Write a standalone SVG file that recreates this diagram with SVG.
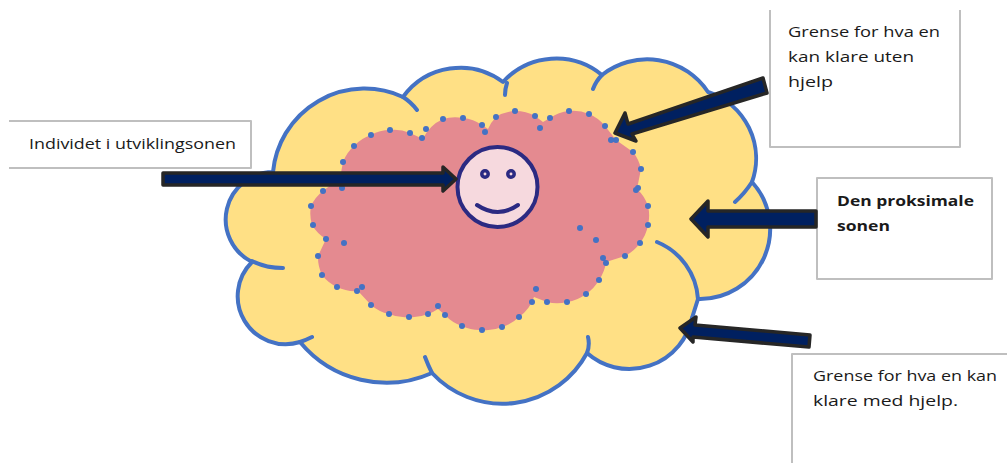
<svg xmlns="http://www.w3.org/2000/svg" width="1007" height="463" viewBox="0 0 1007 463">
<style>
.box{fill:#fff;stroke:#bfbfbf;stroke-width:2;stroke-linejoin:round}
.line{fill:none;stroke:#bfbfbf;stroke-width:2;stroke-linejoin:round}
.t{font-family:"Open Sans","Noto Sans","Liberation Sans",sans-serif;font-size:14.5px;fill:#1a1a1a}
.b{font-weight:700}
.out{fill:none;stroke:#4472c4;stroke-width:4;stroke-linecap:round;stroke-linejoin:round}
.arrow{fill:#002060;stroke:#262626;stroke-width:3.5;stroke-linejoin:round}
.face{fill:none;stroke:#2b2a82;stroke-linecap:round}
</style>
<rect width="1007" height="463" fill="#fff"/>
<g id="outer-zone">
<path id="outer-cloud" d="M273 172A92 92 0 0 1 403 97A71 71 0 0 1 503 82A72 72 0 0 1 602 75A73 73 0 0 1 708 92A70 70 0 0 1 752 182A70 70 0 0 1 698 299L692 318A64 64 0 0 1 587 353A96 96 0 0 1 432 373A112 112 0 0 1 300 342A48 48 0 0 1 252 262A47.500 47.500 0 0 1 273 172Z" fill="#ffe085"/>
<path class="out" d="M273 172A92 92 0 0 1 403 97A71 71 0 0 1 503 82A72 72 0 0 1 602 75A73 73 0 0 1 708 92A70 70 0 0 1 752 182A70 70 0 0 1 698 299M692 318A64 64 0 0 1 587 353A96 96 0 0 1 432 373A112 112 0 0 1 300 342A48 48 0 0 1 252 262A47.500 47.500 0 0 1 273 172"/>
<path class="out" d="M403 97Q411 102 417 110M507 83Q505 89 505 95M602 75Q596 81 593 89M752 182Q745 193 735 202M657 242A66 66 0 0 1 698 299L692 318M587 353Q590 345 588 337M432 373Q428 365 425 357M300 342Q306 340 312 337M252 261Q266 268 283 268"/>
</g>
<g id="inner-zone">
<path id="inner-cloud" fill="#e48a90" d="M343 162A40 40 0 0 1 354 146A40 40 0 0 1 371 135A40 40 0 0 1 390 130A40 40 0 0 1 410 133L423 139A40 40 0 0 1 443 119A40 40 0 0 1 463 118A40 40 0 0 1 482 125L488 129A40 40 0 0 1 496 117A40 40 0 0 1 515 111A40 40 0 0 1 535 116L543 122L550 118A40 40 0 0 1 569 111A40 40 0 0 1 589 114A40 40 0 0 1 605 126L616 140L633 152A40 40 0 0 1 641 169L637 189A40 40 0 0 1 648 206A40 40 0 0 1 648 225A40 40 0 0 1 640 243A40 40 0 0 1 625 256L606 262A40 40 0 0 1 599 280A40 40 0 0 1 586 294A40 40 0 0 1 567 302A40 40 0 0 1 547 302L534 297A40 40 0 0 1 519 317A40 40 0 0 1 502 327A40 40 0 0 1 482 330A40 40 0 0 1 462 326A40 40 0 0 1 445 315L438 309A40 40 0 0 1 428 314A40 40 0 0 1 409 317A40 40 0 0 1 389 314A40 40 0 0 1 371 305L358 291A40 40 0 0 1 337 287A40 40 0 0 1 322 275A40 40 0 0 1 318 256L326 239A40 40 0 0 1 312 225A40 40 0 0 1 311 206A40 40 0 0 1 323 191L340 178Z"/>
<path id="inner-dots" fill="none" stroke="#4472c4" stroke-width="6" stroke-linecap="round" d="M343 162h.01M354 146h.01M371 135h.01M390 130h.01M410 133h.01M422 138h.01M426 129h.01M443 119h.01M463 118h.01M482 125h.01M485 132h.01M496 117h.01M515 111h.01M535 116h.01M540 128h.01M550 118h.01M569 111h.01M589 114h.01M605 126h.01M611 140h.01M616 140h.01M633 152h.01M641 169h.01M638 188h.01M636 190h.01M648 206h.01M648 225h.01M580 228h.01M596 240h.01M342 188h.01M323 191h.01M311 206h.01M313 225h.01M326 239h.01M344 243h.01M318 256h.01M322 275h.01M337 287h.01M357 291h.01M362 287h.01M371 305h.01M389 314h.01M409 317h.01M428 314h.01M438 306h.01M445 315h.01M462 326h.01M482 330h.01M502 327h.01M519 317h.01M532 302h.01M536 289h.01M547 302h.01M567 302h.01M586 294h.01M599 280h.01M606 263h.01M603 258h.01M625 256h.01M640 243h.01"/>
</g>
<g id="smiley">
<circle cx="497.500" cy="187" r="40" fill="#f6d9de" stroke="#2b2a82" stroke-width="4"/>
<circle class="face" cx="485" cy="174" r="3.200" stroke-width="3.500"/>
<circle class="face" cx="511" cy="174" r="3.200" stroke-width="3.500"/>
<path class="face" stroke-width="4" d="M477 205Q498 219 518 205"/>
</g>
<g id="box-individ">
<path class="line" d="M9 121H251V168H9"/>
<text class="t" x="29" y="149" textLength="207" lengthAdjust="spacingAndGlyphs">Individet i utviklingsonen</text>
</g>
<g id="box-uten-hjelp">
<path class="line" d="M770 10V147H960V10"/>
<text class="t" x="788" y="37" textLength="152" lengthAdjust="spacingAndGlyphs">Grense for hva en</text>
<text class="t" x="788" y="62" textLength="126" lengthAdjust="spacingAndGlyphs">kan klare uten</text>
<text class="t" x="788" y="87" textLength="45" lengthAdjust="spacingAndGlyphs">hjelp</text>
</g>
<g id="box-proksimal">
<rect class="box" x="817" y="178" width="175" height="101"/>
<text class="t b" x="837" y="206" textLength="137" lengthAdjust="spacingAndGlyphs">Den proksimale</text>
<text class="t b" x="837" y="231" textLength="53" lengthAdjust="spacingAndGlyphs">sonen</text>
</g>
<g id="box-med-hjelp">
<path class="line" d="M1007 354H792V463"/>
<text class="t" x="813" y="381" textLength="184" lengthAdjust="spacingAndGlyphs">Grense for hva en kan</text>
<text class="t" x="813" y="406" textLength="145" lengthAdjust="spacingAndGlyphs">klare med hjelp.</text>
</g>
<g id="connectors">
<polygon class="arrow" points="163,173 443,173 443,167 456,179 443,191 443,185 163,185"/>
<polygon class="arrow" points="763,78 628,124 625,113 615,133 636,141 632,134 767,93"/>
<polygon class="arrow" points="816,211 708,211 708,201 691,219 708,237 708,227 816,227"/>
<polygon class="arrow" points="810,335 695,325 696,317 680,328 693,342 693,337 809,347"/>
</g>
</svg>
